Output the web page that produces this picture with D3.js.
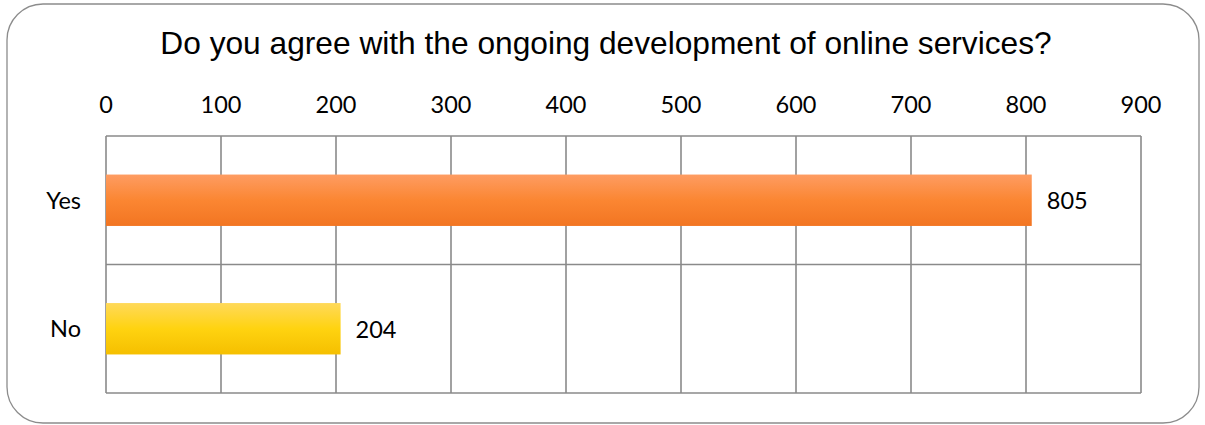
<!DOCTYPE html>
<html><head><meta charset="utf-8">
<script src="https://cdn.jsdelivr.net/npm/d3@7"></script>
<style>html,body{margin:0;padding:0;background:#fff;}</style>
</head><body>
<svg id="chart" width="1205" height="425"></svg>
<script>
const title = "Do you agree with the ongoing development of online services?";
const categories = ["Yes", "No"];
const values = [805, 204];
const tickValues = [0, 100, 200, 300, 400, 500, 600, 700, 800, 900];
const barColors = [["#fe9c62", "#fb8632", "#f27522"], ["#ffd95a", "#ffd310", "#f5bf00"]];

const svg = d3.select("#chart");
const plotLeft = 106, plotRight = 1141, plotTop = 136, plotBottom = 393;

svg.append("rect").attr("x", 7).attr("y", 4).attr("width", 1192).attr("height", 419)
  .attr("rx", 36).attr("ry", 36).attr("fill", "#fff").attr("stroke", "#8c8c8c").attr("stroke-width", 1.3);

svg.append("text").attr("x", 606).attr("y", 54).attr("text-anchor", "middle")
  .attr("font-family", "Liberation Sans, Arial, sans-serif").attr("font-size", 31.7).attr("fill", "#000")
  .text(title);

const x = d3.scaleLinear().domain([0, 900]).range([plotLeft, plotRight]);
const y = d3.scaleBand().domain(categories).range([plotTop, plotBottom]).paddingInner(0).paddingOuter(0);
const bar = d3.scaleBand().domain(categories).range([plotTop, plotBottom]).paddingInner(0.6).paddingOuter(0.3);

const defs = svg.append("defs");
categories.forEach((c, i) => {
  const g = defs.append("linearGradient").attr("id", "g" + i).attr("x1", 0).attr("y1", 0).attr("x2", 0).attr("y2", 1);
  g.append("stop").attr("offset", "0%").attr("stop-color", barColors[i][0]);
  g.append("stop").attr("offset", "50%").attr("stop-color", barColors[i][1]);
  g.append("stop").attr("offset", "100%").attr("stop-color", barColors[i][2]);
});

const grid = svg.append("g").attr("stroke", "#8a8a8a").attr("stroke-width", 1.6);
grid.selectAll("line.v").data(tickValues).join("line").attr("class", "v")
  .attr("x1", d => x(d)).attr("x2", d => x(d)).attr("y1", plotTop).attr("y2", plotBottom);
const hLines = [plotTop].concat(categories.map(c => y(c) + y.bandwidth()));
grid.selectAll("line.h").data(hLines).join("line").attr("class", "h")
  .attr("x1", plotLeft).attr("x2", plotRight).attr("y1", d => d).attr("y2", d => d);

svg.selectAll("rect.bar").data(values).join("rect").attr("class", "bar")
  .attr("x", x(0)).attr("y", (d, i) => bar(categories[i]))
  .attr("width", d => x(d) - x(0)).attr("height", bar.bandwidth())
  .attr("fill", (d, i) => "url(#g" + i + ")");

const font = "Lato, Carlito, sans-serif";
const fs = 23.5;
svg.selectAll("text.tick").data(tickValues).join("text").attr("class", "tick")
  .attr("x", d => x(d)).attr("y", 113).attr("text-anchor", "middle")
  .attr("font-family", font).attr("font-size", fs).attr("fill", "#000").text(d => d);

svg.selectAll("text.cat").data(categories).join("text").attr("class", "cat")
  .attr("x", plotLeft - 25).attr("y", d => y(d) + y.bandwidth() / 2 + 8.5).attr("text-anchor", "end")
  .attr("font-family", font).attr("font-size", fs).attr("fill", "#000").text(d => d);

svg.selectAll("text.val").data(values).join("text").attr("class", "val")
  .attr("x", d => x(d) + 15).attr("y", (d, i) => y(categories[i]) + y.bandwidth() / 2 + 9)
  .attr("font-family", font).attr("font-size", fs).attr("fill", "#000").text(d => d);
</script>
</body></html>
